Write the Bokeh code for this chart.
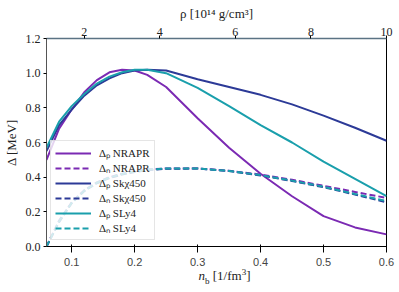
from bokeh.plotting import figure
from bokeh.models import (Range1d, LinearAxis, FixedTicker, PrintfTickFormatter,
                          Legend, LegendItem, ColumnDataSource, Div)
from bokeh.layouts import column
from bokeh.embed import file_html
from bokeh.resources import INLINE

# ---- data ----
nb = [0.06, 0.08, 0.10, 0.12, 0.14, 0.16, 0.18, 0.20, 0.22, 0.25,
      0.30, 0.35, 0.40, 0.45, 0.50, 0.55, 0.60]

dp_nrapr = [0.50, 0.68, 0.79, 0.89, 0.96, 1.005, 1.02, 1.015, 0.99, 0.92,
            0.74, 0.57, 0.42, 0.29, 0.175, 0.11, 0.07]
dn_nrapr = [0.00, 0.15, 0.255, 0.325, 0.37, 0.40, 0.42, 0.435, 0.445, 0.45,
            0.45, 0.437, 0.415, 0.385, 0.35, 0.315, 0.28]
dp_skchi = [0.55, 0.70, 0.79, 0.87, 0.93, 0.97, 1.00, 1.015, 1.02, 1.015,
            0.965, 0.92, 0.875, 0.82, 0.755, 0.685, 0.61]
dn_skchi = [0.00, 0.14, 0.25, 0.32, 0.365, 0.395, 0.415, 0.43, 0.44, 0.448,
            0.45, 0.435, 0.41, 0.378, 0.342, 0.30, 0.255]
dp_sly4 = [0.57, 0.72, 0.81, 0.88, 0.94, 0.98, 1.005, 1.02, 1.02, 1.00,
           0.915, 0.81, 0.70, 0.60, 0.49, 0.39, 0.29]
dn_sly4 = [0.00, 0.145, 0.252, 0.322, 0.368, 0.398, 0.418, 0.433, 0.443, 0.45,
           0.45, 0.436, 0.412, 0.38, 0.345, 0.303, 0.262]

x_ticks = [0.1, 0.2, 0.3, 0.4, 0.5, 0.6]
y_ticks = [0.0, 0.2, 0.4, 0.6, 0.8, 1.0, 1.2]
rho_ticks = [2, 4, 6, 8, 10]
rho_per_nb = 16.67  # 10^14 g/cm^3 per fm^-3

C_NRAPR = "#7b2ab3"
C_SKCHI = "#2c3a97"
C_SLY4 = "#1a9fac"
FONT = "Liberation Serif"

p = figure(width=399, height=268, output_backend="svg", toolbar_location=None,
           x_range=Range1d(0.06, 0.6), y_range=Range1d(0.0, 1.2),
           min_border_left=41, min_border_right=13, min_border_top=38,
           min_border_bottom=17)
p.extra_x_ranges = {"rho": Range1d(0.06 * rho_per_nb, 0.6 * rho_per_nb)}
p.xgrid.visible = False
p.ygrid.visible = False
p.outline_line_color = "black"
p.outline_line_width = 1

for ax, ticks, fmt in [(p.xaxis[0], x_ticks, "%.1f"), (p.yaxis[0], y_ticks, "%.1f")]:
    ax.ticker = FixedTicker(ticks=ticks)
    ax.formatter = PrintfTickFormatter(format=fmt)

top = LinearAxis(x_range_name="rho", ticker=FixedTicker(ticks=rho_ticks),
                 formatter=PrintfTickFormatter(format="%d"))
p.add_layout(top, "above")

for ax in [p.xaxis[0], p.yaxis[0], top]:
    ax.major_label_text_font = FONT
    ax.major_label_text_font_size = "12px"
    ax.major_label_text_color = "#222222"
    ax.major_tick_out = 3
    ax.major_tick_in = 0
    ax.minor_tick_out = 0
    ax.minor_tick_in = 0
    ax.major_label_standoff = 3
    ax.axis_line_color = "black"
    ax.axis_label_text_font = FONT
    ax.axis_label_text_font_size = "13px"
    ax.axis_label_text_font_style = "normal"
    ax.axis_label_text_color = "#222222"
p.xaxis[0].major_label_standoff = 0
top.axis_line_color = "#5b7384"
top.axis_line_width = 1.5
top.axis_label = "ρ [10¹⁴ g/cm³]"
top.axis_label_standoff = 4
p.yaxis[0].axis_line_color = "#555555"
p.yaxis[0].axis_label = "Δ [MeV]"
p.yaxis[0].axis_label_standoff = 4

src = ColumnDataSource(dict(nb=nb, dp_nrapr=dp_nrapr, dn_nrapr=dn_nrapr,
                            dp_skchi=dp_skchi, dn_skchi=dn_skchi,
                            dp_sly4=dp_sly4, dn_sly4=dn_sly4))

r1 = p.line("nb", "dp_nrapr", source=src, color=C_NRAPR, line_width=2)
r2 = p.line("nb", "dn_nrapr", source=src, color=C_NRAPR, line_width=2, line_dash="6 3")
r3 = p.line("nb", "dp_skchi", source=src, color=C_SKCHI, line_width=2)
r4 = p.line("nb", "dn_skchi", source=src, color=C_SKCHI, line_width=2, line_dash="6 3")
r5 = p.line("nb", "dp_sly4", source=src, color=C_SLY4, line_width=2)
r6 = p.line("nb", "dn_sly4", source=src, color=C_SLY4, line_width=2, line_dash="6 3")

legend = Legend(items=[
    LegendItem(label="Δₚ NRAPR", renderers=[r1]),
    LegendItem(label="Δₙ NRAPR", renderers=[r2]),
    LegendItem(label="Δₚ Skχ450", renderers=[r3]),
    LegendItem(label="Δₙ Skχ450", renderers=[r4]),
    LegendItem(label="Δₚ SLy4", renderers=[r5]),
    LegendItem(label="Δₙ SLy4", renderers=[r6]),
], location=(4, 6))
legend.label_text_font = FONT
legend.label_text_font_size = "11px"
legend.label_text_color = "#222222"
legend.glyph_width = 36
legend.glyph_height = 12
legend.label_height = 12
legend.label_standoff = 8
legend.spacing = 0
legend.padding = 4
legend.margin = 0
legend.border_line_color = "#cccccc"
legend.border_line_width = 1
legend.background_fill_alpha = 0.8
p.add_layout(legend, "center")

xlabel = Div(text="<i>n</i><sub style='font-size:9px'>b</sub> [1/fm<sup style='font-size:9px'>3</sup>]",
             width=399, height=24,
             styles={"text-align": "center", "font-family": "'Liberation Serif', serif",
                     "font-size": "13px", "color": "#222222", "position": "relative",
                     "top": "-7px", "padding-left": "40px"})

layout = column(p, xlabel, spacing=0)
open("out.html", "w").write(file_html(layout, INLINE))
